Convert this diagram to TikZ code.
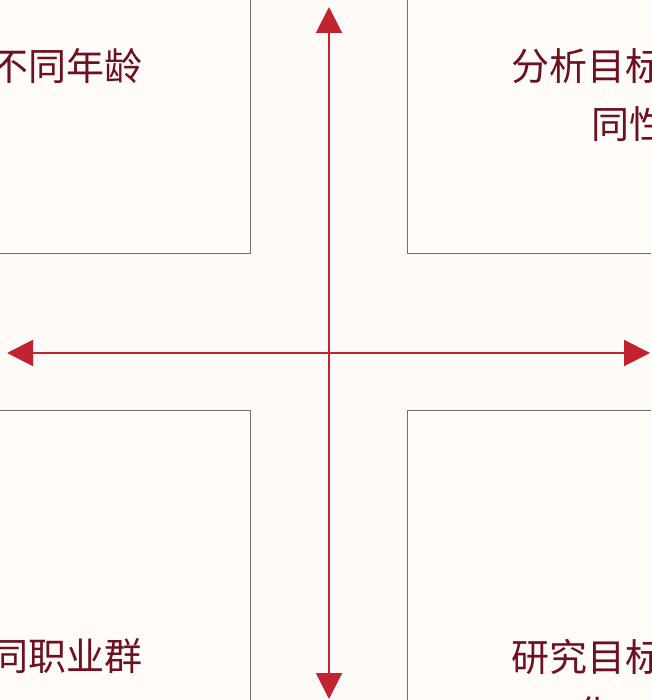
\documentclass[tikz,border=0pt]{standalone}
\usepackage{fontspec}
\setmainfont{Noto Sans CJK SC}
\usetikzlibrary{arrows.meta,positioning}

\definecolor{paper}{RGB}{253,250,248}
\definecolor{boxfill}{RGB}{255,252,250}
\definecolor{axisred}{RGB}{193,35,48}
\definecolor{textred}{RGB}{110,16,30}
\definecolor{edgegray}{RGB}{112,112,112}

\begin{document}
\begin{tikzpicture}[x=1pt, y=-1pt,
    quad/.style={rectangle, draw=edgegray, fill=boxfill, line width=1pt, minimum width=300pt, minimum height=300pt, inner sep=0pt},
    quadtext/.style={text=textred, font=\fontsize{38}{46}\selectfont, inner sep=0pt},
    axisline/.style={draw=axisred, line width=2pt, {Triangle[length=26pt,width=26pt]}-{Triangle[length=26pt,width=26pt]}}]
        \useasboundingbox (0,0) rectangle (651,700);
        \fill[paper] (0,0) rectangle (651,700);
        \clip (0,0) rectangle (651,700);

        % four quadrant boxes
        \node[quad, anchor=south east] (agebox) at (251,254) {};
        \node[quad, anchor=south west] (genderbox) at (407,254) {};
        \node[quad, anchor=north east] (jobbox) at (251,410) {};
        \node[quad, anchor=north west] (goalbox) at (407,410) {};

        % labels
        \node[quadtext, anchor=east] (agetext) at (143,66) {不同年龄};
        \node[quadtext, anchor=west] (gendertext) at (511,66) {分析目标};
        \node[quadtext, anchor=west] (gendertextb) at (591,124) {同性};
        \node[quadtext, anchor=east] (jobtext) at (143,656) {同职业群};
        \node[quadtext, anchor=west] (goaltext) at (511,657) {研究目标};
        \node[quadtext, anchor=west] (goaltextb) at (576,714) {化};

        % axes
        \coordinate (top) at (329,7);
        \coordinate (bottom) at (329,699);
        \coordinate (left) at (7,353);
        \coordinate (right) at (650,353);
        \draw[axisline] (top) -- (bottom);
        \draw[axisline] (left) -- (right);
    \end{tikzpicture}
\end{document}
